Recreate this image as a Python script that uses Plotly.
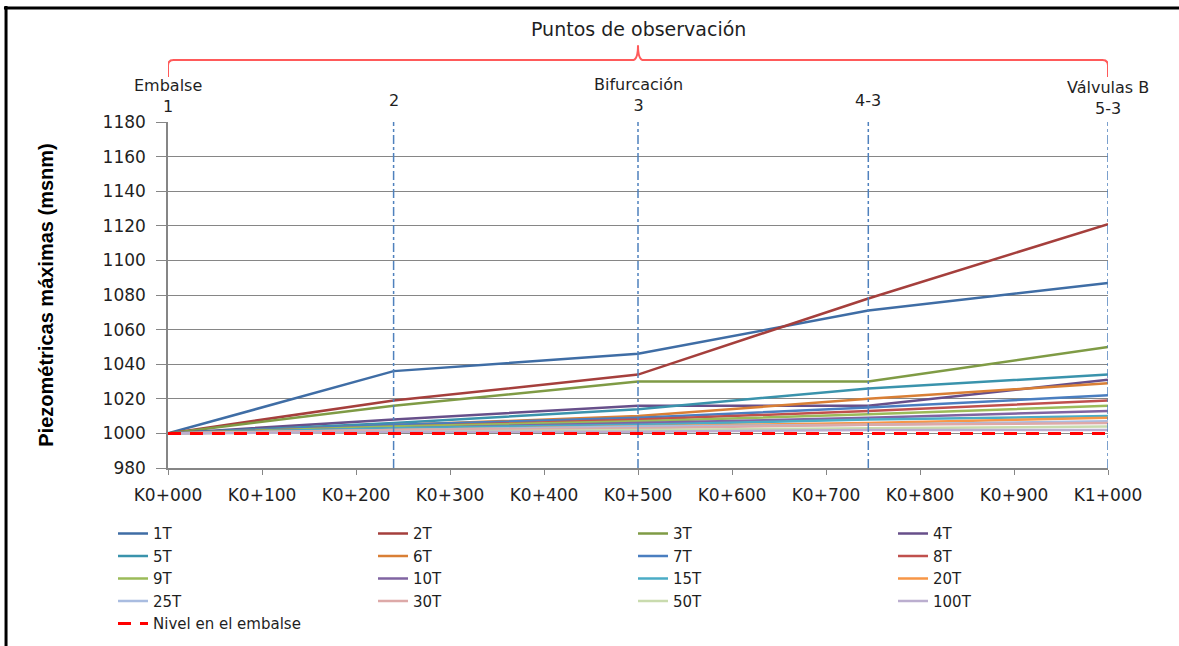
import plotly.graph_objects as go

# Chainage (m) of the observation points along the conduit
chainage = [0, 240, 500, 745, 1000]
point_labels = ["Embalse<br>1", "2", "Bifurcación<br>3", "4-3", "Válvulas B<br>5-3"]

# Maximum piezometric level (msnm) at each observation point, per scenario
series_names = ["1T", "2T", "3T", "4T", "5T", "6T", "7T", "8T", "9T", "10T",
                "15T", "20T", "25T", "30T", "50T", "100T"]
t1 = [1000, 1036, 1046, 1071, 1087]
t2 = [1000, 1019, 1034, 1078, 1121]
t3 = [1000, 1016, 1030, 1030, 1050]
t4 = [1000, 1008, 1016, 1016, 1031]
t5 = [1000, 1006, 1014, 1026, 1034]
t6 = [1000, 1005, 1010, 1020, 1029]
t7 = [1000, 1005, 1009, 1015, 1022]
t8 = [1000, 1004, 1008, 1013, 1019]
t9 = [1000, 1004, 1007, 1011, 1016]
t10 = [1000, 1003, 1006, 1009, 1013]
t15 = [1000, 1003, 1005, 1008, 1010]
t20 = [1000, 1002, 1004, 1006, 1009]
t25 = [1000, 1002, 1004, 1005, 1007]
t30 = [1000, 1002, 1003, 1005, 1006]
t50 = [1000, 1001, 1002, 1003, 1004]
t100 = [1000, 1001, 1001, 1002, 1002]
series_values = [t1, t2, t3, t4, t5, t6, t7, t8, t9, t10, t15, t20, t25, t30, t50, t100]

# Reservoir level
reservoir_x = [0, 1000]
reservoir_level = [1000, 1000]

x_ticks = list(range(0, 1001, 100))
x_tick_text = ["K0+000", "K0+100", "K0+200", "K0+300", "K0+400", "K0+500",
               "K0+600", "K0+700", "K0+800", "K0+900", "K1+000"]

colors = ["#3F6DA5", "#A53F3C", "#7F9B45", "#674F8A", "#3A93AC", "#D97F35",
          "#4A7EC0", "#C0504D", "#9BBB59", "#8064A2", "#4BACC6", "#F79646",
          "#A9BCE0", "#DDA9A8", "#C9DBAE", "#BBAECF"]

FONT = "DejaVu Sans"
TXT = "#1f1f1f"
GRID = "#868686"

fig = go.Figure()
for name, vals, col in zip(series_names, series_values, colors):
    fig.add_trace(go.Scatter(x=chainage, y=vals, name=name, mode="lines",
                             line=dict(color=col, width=2.5)))
fig.add_trace(go.Scatter(x=reservoir_x, y=reservoir_level, name="Nivel en el embalse",
                         mode="lines", line=dict(color="#FF0000", width=3, dash="13px,9px")))

shapes = []
# Vertical markers at the observation points
for xc in chainage[1:]:
    shapes.append(dict(type="line", xref="x", yref="y", x0=xc, x1=xc, y0=980, y1=1180,
                       line=dict(color="#4F81BD", width=1.5, dash="dashdot"), layer="above"))

# Curly brace spanning all observation points
x0, xm, x1 = chainage[0], (chainage[0] + chainage[-1]) / 2, chainage[-1]
yb, yh, yt = 1.130, 1.179, 1.222
r = 6
brace = (f"M {x0},{yb} L {x0},{yh - 0.016} Q {x0},{yh} {x0 + r},{yh} "
         f"L {xm - r},{yh} Q {xm},{yh} {xm},{yt} Q {xm},{yh} {xm + r},{yh} "
         f"L {x1 - r},{yh} Q {x1},{yh} {x1},{yh - 0.016} L {x1},{yb}")
shapes.append(dict(type="path", xref="x", yref="paper", path=brace,
                   line=dict(color="#FF5a5a", width=2)))

# Outer frame (top and left edges)
shapes.append(dict(type="line", xref="paper", yref="paper", x0=-0.1745, x1=1.135, y0=1.3295, y1=1.3295,
                   line=dict(color="black", width=3)))
shapes.append(dict(type="line", xref="paper", yref="paper", x0=-0.1723, x1=-0.1723, y0=1.335, y1=-0.6,
                   line=dict(color="black", width=3)))

annotations = [dict(text="Puntos de observación", xref="x", yref="paper", x=xm, y=1.269,
                    yanchor="middle", showarrow=False, font=dict(family=FONT, size=19, color=TXT))]
label_y = [1.075, 1.061, 1.079, 1.061, 1.069]
for xc, lab, ly in zip(chainage, point_labels, label_y):
    annotations.append(dict(text=lab, xref="x", yref="paper", x=xc, y=ly, yanchor="middle",
                            showarrow=False, font=dict(family=FONT, size=16, color=TXT)))

fig.update_layout(
    width=1179, height=646, autosize=False,
    margin=dict(l=168, r=71, t=122, b=178, autoexpand=False),
    paper_bgcolor="white", plot_bgcolor="white",
    shapes=shapes, annotations=annotations,
    showlegend=True,
    legend=dict(orientation="h", x=-0.0585, y=-0.142, xanchor="left", yanchor="top",
                entrywidth=215, entrywidthmode="pixels",
                font=dict(family=FONT, size=15, color=TXT), tracegroupgap=0),
    xaxis=dict(range=[0, 1000], tickvals=x_ticks, ticktext=x_tick_text,
               showgrid=False, zeroline=False, showline=True, linecolor=GRID, linewidth=1.5,
               ticks="outside", ticklen=5, tickcolor=GRID, ticklabelstandoff=6,
               tickfont=dict(family=FONT, size=17, color=TXT)),
    yaxis=dict(range=[980, 1180], dtick=20, showgrid=True, gridcolor=GRID, gridwidth=1.3,
               zeroline=False, showline=True, linecolor=GRID, linewidth=1.5,
               ticks="outside", ticklen=10, tickcolor=GRID, ticklabelstandoff=7,
               tickfont=dict(family=FONT, size=17, color=TXT),
               title=dict(text="Piezométricas máximas (msnm)", standoff=44,
                          font=dict(family="Liberation Sans", size=20, color="black", weight="bold"))),
)

fig.write_html("out.html")
